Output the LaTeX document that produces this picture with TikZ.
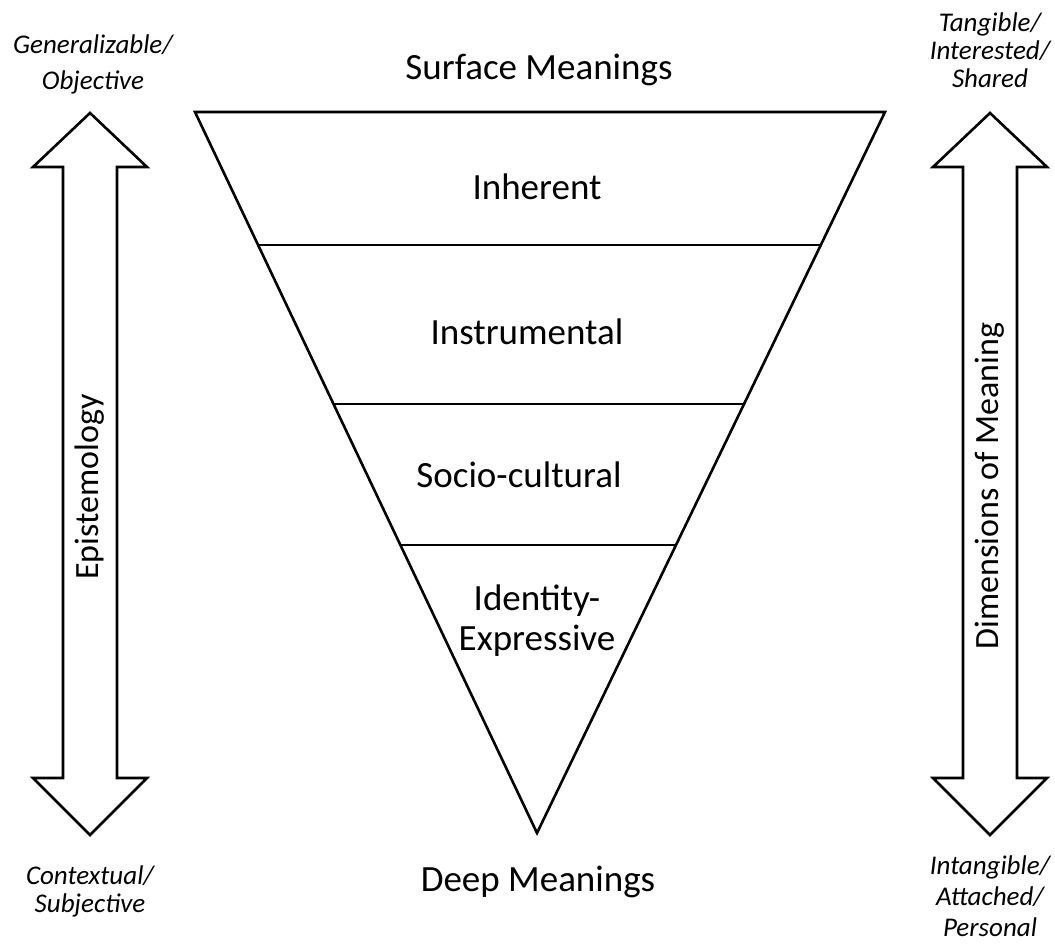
\documentclass[tikz,border=0pt]{standalone}
\usepackage{fontspec}
\setmainfont{Carlito}
\begin{document}
\begin{tikzpicture}[x=1pt,y=-1pt,
  outline/.style={draw=black,line width=2.6pt,line join=miter},
  divider/.style={draw=black,line width=2pt},
  lvl/.style={font=\fontsize{37}{40}\selectfont,inner sep=0pt},
  endlbl/.style={font=\fontsize{37}{40}\selectfont,inner sep=0pt},
  side/.style={font=\itshape\fontsize{27}{28}\selectfont,align=center,inner sep=0pt},
  axis/.style={font=\fontsize{34}{36}\selectfont,inner sep=0pt,rotate=90}]
\useasboundingbox (0,0) rectangle (1055,944);
% triangle
\coordinate (TL) at (195,112);
\coordinate (TR) at (885,112);
\coordinate (B) at (537,833);
\draw[outline] (TL) -- (TR) -- (B) -- cycle;
\draw[divider] (258,245) -- (821,245);
\draw[divider] (333,404) -- (744,404);
\draw[divider] (400,545) -- (676,545);
% level labels
\node[lvl] (inh) at (537,187) {Inherent};
\node[lvl] (ins) at (527,332) {Instrumental};
\node[lvl] (soc) at (519,475) {Socio-cultural};
\node[lvl,align=center,font=\fontsize{37}{40}\selectfont] (ide) at (537,621) {Identity-\\Expressive};
\node[endlbl] (sur) at (539,70) {Surface Meanings};
\node[endlbl] (dee) at (538,882) {Deep Meanings};
% left double arrow
\draw[outline] (90,113) -- (147,167) -- (117,167) -- (117,778) -- (147,778) -- (90,835)
  -- (33,778) -- (63,778) -- (63,167) -- (33,167) -- cycle;
% right double arrow
\draw[outline] (990,113) -- (1047,167) -- (1017,167) -- (1017,778) -- (1047,778) -- (990,835)
  -- (933,778) -- (963,778) -- (963,167) -- (933,167) -- cycle;
\node[axis] (epi) at (90,487) {Epistemology};
\node[axis] (dim) at (990,486) {Dimensions of Meaning};
% side labels
\node[side,font=\itshape\fontsize{27}{36}\selectfont] (gen) at (93,64) {Generalizable/\\Objective};
\node[side] (tan) at (990,50) {Tangible/\\Interested/\\Shared};
\node[side] (con) at (90,891) {Contextual/\\Subjective};
\node[side,font=\itshape\fontsize{27}{31}\selectfont] (int) at (990,896) {Intangible/\\Attached/\\Personal};
\end{tikzpicture}
\end{document}
